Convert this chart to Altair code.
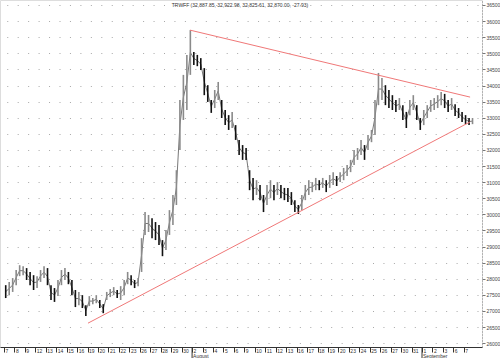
import altair as alt
import pandas as pd

# ---- data ----
day_labels = [7, 8, 9, 12, 13, 14, 15, 16, 19, 20, 21, 22, 23, 26, 27, 28, 29, 30,
              2, 3, 4, 5, 6, 9, 10, 11, 12, 13, 16, 17, 18, 19, 20, 23, 24, 25, 26, 27, 30, 31,
              1, 2, 3, 6, 7]
month_names = ["August", "September"]
month_start = [18, 40]

# three intraday bars per trading day (high / low)
high = [27800, 27900, 28020, 28270, 28420, 28390, 28330, 28210, 28110,
        28080, 28270, 28390, 28330, 27800, 27710, 27960, 28270, 28330,
        28210, 27960, 27650, 27590, 27490, 27180, 27460, 27400, 27490,
        27340, 27210, 27590, 27680, 27740, 27650, 27770, 27960, 28210,
        28110, 27960, 28020, 29260, 30070, 29980, 29880, 29760, 29670,
        29200, 29510, 30130, 30600, 31370, 33550, 34330, 34950, 35720,
        35040, 34950, 34850, 34540, 34010, 33550, 33860, 34110, 33550,
        33240, 33080, 33180, 32770, 32310, 32150, 32060, 31370, 31130,
        31060, 30910, 30600, 30910, 31060, 30910, 31000, 30910, 30820,
        30820, 30690, 30440, 30290, 30600, 30910, 31060, 31000, 31130,
        31060, 31130, 31060, 31220, 31310, 31190, 31310, 31440, 31530,
        31690, 32000, 32060, 32310, 32150, 32460, 32620, 33550, 34390,
        34230, 34010, 33860, 33700, 33550, 33610, 33390, 33180, 33550,
        33700, 33390, 32990, 33240, 33390, 33550, 33610, 33700, 33800,
        33740, 33550, 33610, 33420, 33300, 33180, 33080, 32990, 32990]
low = [27400, 27490, 27590, 27800, 28080, 28110, 27960, 27800, 27650,
       27710, 27900, 28020, 27800, 27340, 27280, 27460, 27800, 27960,
       27830, 27490, 27120, 27180, 27090, 26840, 27150, 27210, 27240,
       27090, 26930, 27340, 27430, 27490, 27400, 27340, 27490, 27830,
       27800, 27710, 27770, 28210, 29360, 29450, 29260, 29200, 29050,
       28700, 28890, 29360, 29670, 30290, 32000, 32930, 33240, 34330,
       34640, 34600, 34480, 33700, 33490, 33150, 33300, 33550, 32990,
       32770, 32620, 32680, 32310, 31840, 31690, 31690, 30750, 30440,
       30600, 30440, 30070, 30290, 30500, 30440, 30600, 30500, 30440,
       30380, 30290, 30070, 30010, 30130, 30440, 30600, 30690, 30750,
       30750, 30820, 30690, 30820, 30910, 30880, 31000, 31060, 31190,
       31310, 31530, 31690, 31840, 31690, 32000, 32240, 32460, 33390,
       33550, 33390, 33300, 33240, 33180, 33240, 32930, 32680, 33080,
       33240, 32930, 32620, 32770, 32990, 33180, 33240, 33300, 33390,
       33300, 33180, 33240, 33050, 32990, 32870, 32800, 32770, 32800]

# trend lines (day position, price)
trend_id = ["upper", "upper", "lower", "lower"]
trend_day = [17.8, 44.6, 8.04, 44.6]
trend_price = [35720, 33640, 26620, 32870]

title_text = "TRWFF (32,887.85, 32,922.98, 32,825.61, 32,870.00, -27.93)"

# ---- tables ----
rows = []
prev_mid = None
for k, (h, l) in enumerate(zip(high, low)):
    mid = (h + l) / 2
    up = prev_mid is not None and mid >= prev_mid
    rows.append({"pos": k // 3 + (2 * (k % 3) + 1) / 6, "hi": h, "lo": l,
                 "mid": mid, "dir": "up" if up else "down"})
    prev_mid = mid
bars = pd.DataFrame(rows)
trend = pd.DataFrame({"id": trend_id, "pos": trend_day, "price": trend_price})
months = pd.DataFrame({"pos": month_start, "name": month_names})

label_js = "[" + ",".join(str(d) for d in day_labels) + "][datum.value]"

FONT = "Liberation Sans"
xscale = alt.Scale(domain=[-0.38, 45.74], nice=False, zero=False)
yscale = alt.Scale(domain=[25880, 36655], nice=False, zero=False)

xaxis = alt.Axis(values=list(range(len(day_labels))), labelExpr=label_js,
                 labelAlign="left", labelBaseline="top", labelPadding=-4,
                 labelOffset=1, labelFontSize=5, labelFont=FONT,
                 labelColor="#333", tickSize=5, tickColor="#333",
                 domainColor="#333", grid=False, title=None,
                 labelOverlap=False, labelBound=False, orient="bottom")
yaxis = alt.Axis(values=list(range(26000, 36501, 500)), format="d",
                 orient="right", labelFontSize=5, labelFont=FONT,
                 labelColor="#444", tickSize=3, tickColor="#777",
                 labelPadding=1, domainColor="#888", domainDash=[1, 2],
                 grid=True, gridColor="#a8a8a8", gridDash=[1, 9.45],
                 gridDashOffset=6.45, gridWidth=1, title=None,
                 labelOverlap=False, labelBound=False)

mid_line = alt.Chart(bars).mark_line(color="#555", strokeWidth=0.8).encode(
    x=alt.X("pos:Q", scale=xscale, axis=xaxis),
    y=alt.Y("mid:Q", scale=yscale, axis=yaxis),
)

bar_layer = alt.Chart(bars).mark_rule(strokeWidth=1.6).encode(
    x=alt.X("pos:Q", scale=xscale, axis=xaxis),
    y=alt.Y("lo:Q", scale=yscale, axis=yaxis),
    y2="hi:Q",
    color=alt.Color("dir:N", scale=alt.Scale(domain=["up", "down"],
                                             range=["#8a8a8a", "#111111"]),
                    legend=None),
)

trend_layer = alt.Chart(trend).mark_line(color="#f07878", strokeWidth=1).encode(
    x=alt.X("pos:Q", scale=xscale, axis=xaxis),
    y=alt.Y("price:Q", scale=yscale, axis=yaxis),
    detail="id:N",
)

month_rule = alt.Chart(months).mark_rule(color="#333", strokeWidth=1).encode(
    x=alt.X("pos:Q", scale=xscale, axis=xaxis),
    y=alt.value(347),
    y2=alt.value(358),
)

month_text = alt.Chart(months).mark_text(
    align="left", baseline="bottom", fontSize=5, font=FONT, color="#333", dx=1
).encode(
    x=alt.X("pos:Q", scale=xscale, axis=xaxis),
    y=alt.value(358.5),
    text="name:N",
)

title_layer = alt.Chart(pd.DataFrame({"t": [title_text]})).mark_text(
    align="center", baseline="middle", fontSize=5, font=FONT, color="#333"
).encode(x=alt.value(240), y=alt.value(5), text="t:N")

chart = alt.layer(mid_line, bar_layer, trend_layer, month_rule, month_text,
                  title_layer).properties(
    width=482, height=347,
    autosize=alt.AutoSizeParams(type="none"),
    padding={"left": 0, "top": 0, "right": 18, "bottom": 11},
).configure_view(stroke=None).configure(background="white").configure_axisX(
    labelOverlap=False
).configure_axisY(labelOverlap=False)

chart.save("out.html", embed_options={"renderer": "svg", "actions": False})
